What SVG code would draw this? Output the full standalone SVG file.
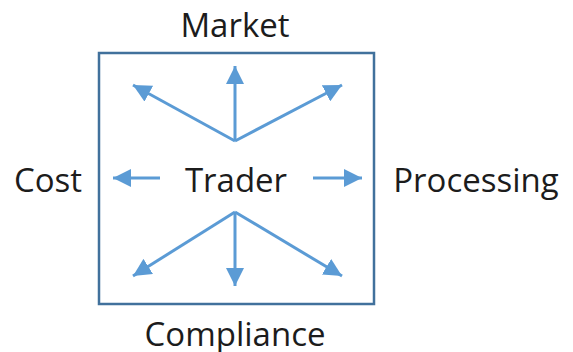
<svg xmlns="http://www.w3.org/2000/svg" width="573" height="352" viewBox="0 0 573 352">
  <style>
    .lbl { font-family: "Open Sans", "Liberation Sans", sans-serif; font-size: 33px; fill: #1c1c1c; text-anchor: middle; }
    .arr { stroke: #5b9bd5; stroke-width: 3; fill: none; marker-end: url(#head); }
  </style>
  <defs>
    <marker id="head" viewBox="0 0 10 10" refX="10" refY="5" markerWidth="6" markerHeight="6" markerUnits="strokeWidth" orient="auto">
      <path d="M0,0 L10,5 L0,10 z" fill="#5b9bd5"/>
    </marker>
  </defs>
  <rect width="573" height="352" fill="#ffffff"/>

  <g id="trader">
    <rect x="99" y="53" width="275" height="251" fill="none" stroke="#41719c" stroke-width="2.5"/>
    <text class="lbl" x="236" y="192">Trader</text>
  </g>

  <g id="market"><text class="lbl" x="235" y="37">Market</text></g>
  <g id="cost"><text class="lbl" x="48" y="192">Cost</text></g>
  <g id="processing"><text class="lbl" x="476" y="192">Processing</text></g>
  <g id="compliance"><text class="lbl" x="235" y="346">Compliance</text></g>

  <g id="connectors">
    <line class="arr" x1="235" y1="141" x2="235" y2="66"/>
    <line class="arr" x1="235" y1="141" x2="133" y2="85"/>
    <line class="arr" x1="235" y1="141" x2="342" y2="85"/>
    <line class="arr" x1="160" y1="178" x2="113" y2="178"/>
    <line class="arr" x1="313" y1="178" x2="362" y2="178"/>
    <line class="arr" x1="235" y1="212" x2="235" y2="286"/>
    <line class="arr" x1="235" y1="212" x2="133" y2="276"/>
    <line class="arr" x1="235" y1="212" x2="342" y2="276"/>
  </g>
</svg>
